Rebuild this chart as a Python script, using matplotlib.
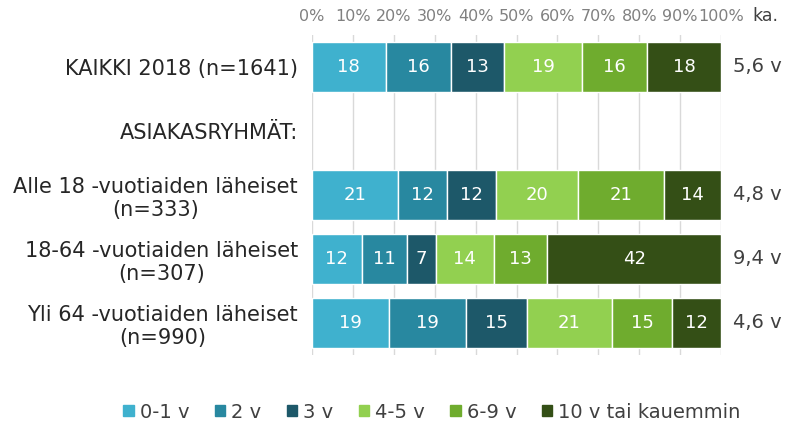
import matplotlib.pyplot as plt
import numpy as np

categories = ['KAIKKI 2018 (n=1641)', 'ASIAKASRYHMÄT:', 'Alle 18 -vuotiaiden läheiset\n(n=333)',
              '18-64 -vuotiaiden läheiset\n(n=307)', 'Yli 64 -vuotiaiden läheiset\n(n=990)']
series = ['0-1 v', '2 v', '3 v', '4-5 v', '6-9 v', '10 v tai kauemmin']
values = [
    [18, 16, 13, 19, 16, 18],
    None,
    [21, 12, 12, 20, 21, 14],
    [12, 11, 7, 14, 13, 42],
    [19, 19, 15, 21, 15, 12],
]
averages = ['5,6 v', '', '4,8 v', '9,4 v', '4,6 v']
colors = ['#3FB1CE', '#2888A0', '#1D5869', '#92D050', '#6FAC2E', '#344F16']

fig = plt.figure(figsize=(7.87, 4.26), dpi=100)
ax = fig.add_axes([0.3964, 0.1667, 0.5198, 0.7513])

n = len(categories)
ypos = np.arange(n)
handles = []
for j, s in enumerate(series):
    for i, row in enumerate(values):
        if row is None:
            continue
        tot = sum(row)
        w = row[j] / tot * 100
        left = sum(row[:j]) / tot * 100
        ax.barh(ypos[i], w, left=left, height=0.77, color=colors[j],
                edgecolor='white', linewidth=1, zorder=3)
        ax.text(left + w / 2, ypos[i], str(row[j]), ha='center', va='center',
                color='white', fontsize=13, zorder=4)
    handles.append(plt.Rectangle((0, 0), 1, 1, color=colors[j]))

for i, a in enumerate(averages):
    ax.text(103, ypos[i], a, ha='left', va='center', fontsize=14, color='#404040')
ax.text(107.6, -0.8, 'ka.', ha='left', va='center', fontsize=12.5, color='#404040')

ax.set_xlim(0, 100)
ax.set_ylim(n - 0.5, -0.5)
ax.set_yticks(ypos)
ax.set_yticklabels(categories, fontsize=15, color='#262626', ha='right', multialignment='center')
ax.tick_params(axis='y', length=0, pad=10)
ax.set_xticks(np.arange(0, 101, 10))
ax.set_xticklabels([f'{t}%' for t in range(0, 101, 10)], fontsize=11.5, color='#808080')
ax.xaxis.tick_top()
ax.tick_params(axis='x', length=0, pad=8)
ax.grid(axis='x', color='#D9D9D9', linewidth=1, zorder=0)
for sp in ax.spines.values():
    sp.set_visible(False)

fig.legend(handles, series, loc='center', bbox_to_anchor=(432 / 787, 1 - 412 / 426), ncol=6,
           frameon=False, fontsize=14, handlelength=0.55, handleheight=0.55,
           handletextpad=0.3, columnspacing=1.3, labelcolor='#404040')

fig.savefig('out.png', dpi=100)
